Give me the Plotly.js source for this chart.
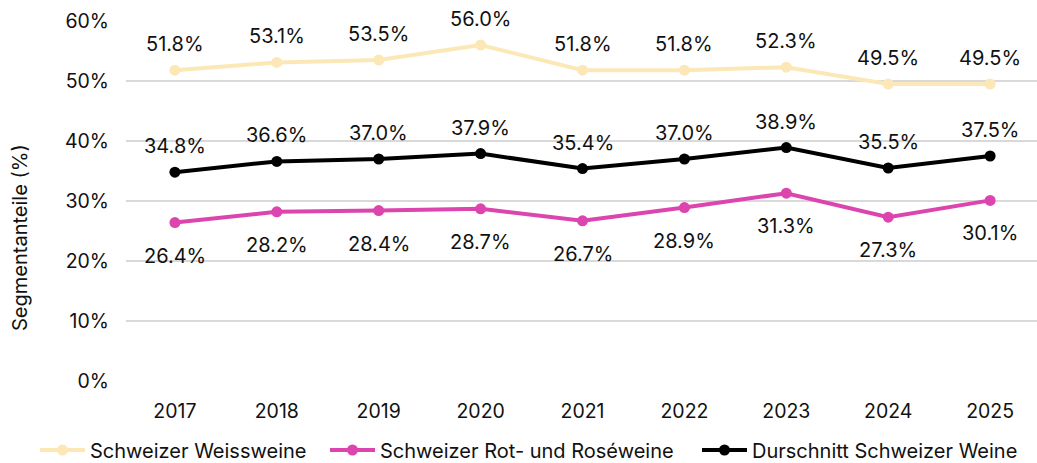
<!DOCTYPE html>
<html>
<head>
<meta charset="utf-8">
<script src="https://cdn.plot.ly/plotly-3.0.1.min.js"></script>
<style>html,body{margin:0;padding:0;background:#fff}#chart{width:1037px;height:463px}</style>
</head>
<body>
<div id="chart"></div>
<script>
const years = ['2017','2018','2019','2020','2021','2022','2023','2024','2025'];
const weiss = [51.8, 53.1, 53.5, 56.0, 51.8, 51.8, 52.3, 49.5, 49.5];
const rot = [26.4, 28.2, 28.4, 28.7, 26.7, 28.9, 31.3, 27.3, 30.1];
const durch = [34.8, 36.6, 37.0, 37.9, 35.4, 37.0, 38.9, 35.5, 37.5];
const names = ['Schweizer Weissweine', 'Schweizer Rot- und Roséweine', 'Durschnitt Schweizer Weine'];
const yTitle = 'Segmentanteile (%)';
const colors = ['#FCE8B6', '#DC45AE', '#000000'];

const FONT = 'Inter, "Liberation Sans", sans-serif';
const series = [weiss, rot, durch];
const legendIds = ['legend', 'legend2', 'legend3'];
const traces = series.map((vals, i) => ({
  x: years, y: vals, name: names[i], type: 'scatter', mode: 'lines+markers',
  line: {color: colors[i], width: 4},
  marker: {color: colors[i], size: 11},
  legend: legendIds[i],
  hoverinfo: 'skip'
}));

const shifts = [26, -33, 26];
const annotations = [];
series.forEach((vals, i) => {
  vals.forEach((v, k) => {
    annotations.push({
      x: k, y: v, xref: 'x', yref: 'y', text: v.toFixed(1) + '%',
      showarrow: false, yshift: shifts[i],
      font: {family: FONT, size: 20, color: '#111'}
    });
  });
});
annotations.push({
  text: yTitle, xref: 'paper', yref: 'paper', x: -0.1164, y: 0.4,
  xanchor: 'center', yanchor: 'middle', textangle: -90, showarrow: false,
  font: {family: FONT, size: 20, color: '#111'}
});

const legendX = [35, 325, 697];
function mkLegend(px) {
  return {orientation: 'h', xref: 'container', yref: 'container', x: px / 1037, xanchor: 'left',
          y: 13 / 463, yanchor: 'middle', itemwidth: 45,
          font: {family: FONT, size: 20, color: '#111'}, bgcolor: 'rgba(0,0,0,0)'};
}

const layout = {
  width: 1037, height: 463,
  margin: {l: 126, r: 0, t: 21, b: 82},
  paper_bgcolor: '#fff', plot_bgcolor: '#fff',
  font: {family: FONT, color: '#111'},
  showlegend: true,
  legend: mkLegend(legendX[0]),
  legend2: mkLegend(legendX[1]),
  legend3: mkLegend(legendX[2]),
  xaxis: {type: 'category', range: [-0.48, 8.46], showgrid: false, zeroline: false,
          showline: false, ticks: '', tickfont: {family: FONT, size: 19.5, color: '#111'},
          ticklabelstandoff: 16, fixedrange: true, automargin: false},
  yaxis: {range: [0, 60], dtick: 10, ticksuffix: '%', showgrid: true, gridcolor: '#d9d9d9',
          gridwidth: 1.5, zeroline: false, showline: false, ticks: '',
          tickfont: {family: FONT, size: 19.5, color: '#111'}, ticklabelstandoff: 16,
          fixedrange: true, automargin: false},
  annotations: annotations
};

Plotly.newPlot('chart', traces, layout, {displayModeBar: false, staticPlot: true});
</script>
</body>
</html>
